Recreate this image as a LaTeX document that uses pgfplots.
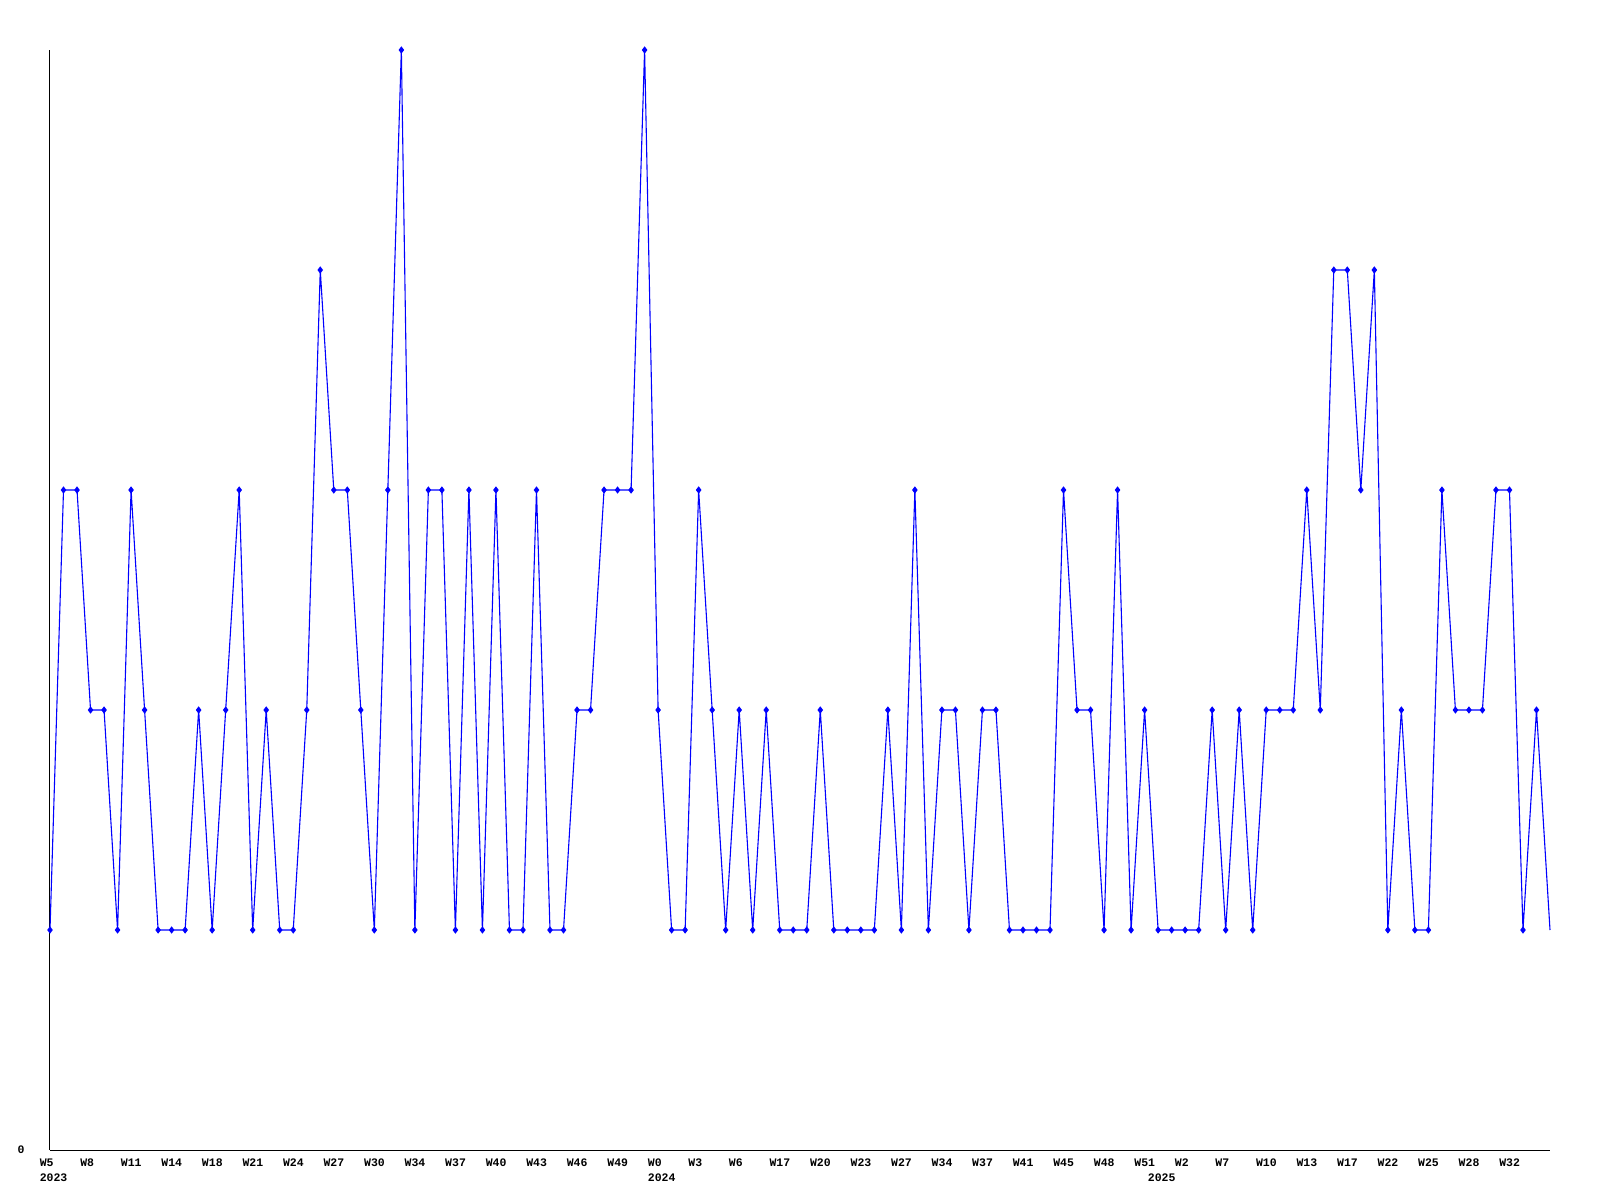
\documentclass[border=0pt]{standalone}
\usepackage{pgfplots}
\pgfplotsset{compat=1.18}
\usepackage{fontspec}
\setmainfont{Liberation Mono}
\begin{document}
\begin{tikzpicture}
\useasboundingbox (0,0) rectangle (800pt,600pt);
\begin{axis}[
 at={(25pt,25pt)}, anchor=south west,
 width=750pt, height=550pt, scale only axis,
 xmin=0, xmax=111, ymin=0, ymax=5,
 axis x line=bottom, axis y line=left,
 axis line style={-, black, line width=0.5pt},
 major tick length=0pt,
 xtick={0,3,...,108},
 xticklabels={W5,W8,W11,W14,W18,W21,W24,W27,W30,W34,W37,W40,W43,W46,W49,W0,W3,W6,W17,W20,W23,W27,W34,W37,W41,W45,W48,W51,W2,W7,W10,W13,W17,W22,W25,W28,W32},
 ytick={0},
 tick label style={font=\fontsize{5.75pt}{8pt}\selectfont\bfseries},
 xticklabel style={anchor=base west, inner sep=0pt, xshift=-5.3pt, yshift=-8pt},
 yticklabel style={anchor=base east, inner sep=0pt, xshift=-12.5pt, yshift=-1.5pt},
 clip=false,
 /pgf/number format/assume math mode=true,
]
\addplot[color={rgb,255:red,0;green,0;blue,255}, line width=0.55pt, mark=diamond*, mark size=1.4pt, mark indices={1,...,111}, mark options={fill={rgb,255:red,0;green,0;blue,255}}] coordinates {
(0,1)(1,3)(2,3)(3,2)(4,2)(5,1)(6,3)(7,2)(8,1)(9,1)
(10,1)(11,2)(12,1)(13,2)(14,3)(15,1)(16,2)(17,1)(18,1)(19,2)
(20,4)(21,3)(22,3)(23,2)(24,1)(25,3)(26,5)(27,1)(28,3)(29,3)
(30,1)(31,3)(32,1)(33,3)(34,1)(35,1)(36,3)(37,1)(38,1)(39,2)
(40,2)(41,3)(42,3)(43,3)(44,5)(45,2)(46,1)(47,1)(48,3)(49,2)
(50,1)(51,2)(52,1)(53,2)(54,1)(55,1)(56,1)(57,2)(58,1)(59,1)
(60,1)(61,1)(62,2)(63,1)(64,3)(65,1)(66,2)(67,2)(68,1)(69,2)
(70,2)(71,1)(72,1)(73,1)(74,1)(75,3)(76,2)(77,2)(78,1)(79,3)
(80,1)(81,2)(82,1)(83,1)(84,1)(85,1)(86,2)(87,1)(88,2)(89,1)
(90,2)(91,2)(92,2)(93,3)(94,2)(95,4)(96,4)(97,3)(98,4)(99,1)
(100,2)(101,1)(102,1)(103,3)(104,2)(105,2)(106,2)(107,3)(108,3)(109,1)
(110,2)(111,1)
};
\node[anchor=base west, inner sep=0pt, font=\fontsize{5.75pt}{8pt}\selectfont\bfseries] at (axis cs:0,0) [xshift=-5.3pt, yshift=-15.5pt] {2023};
\node[anchor=base west, inner sep=0pt, font=\fontsize{5.75pt}{8pt}\selectfont\bfseries] at (axis cs:45,0) [xshift=-5.3pt, yshift=-15.5pt] {2024};
\node[anchor=base west, inner sep=0pt, font=\fontsize{5.75pt}{8pt}\selectfont\bfseries] at (axis cs:82,0) [xshift=-5.3pt, yshift=-15.5pt] {2025};
\end{axis}
\end{tikzpicture}
\end{document}
